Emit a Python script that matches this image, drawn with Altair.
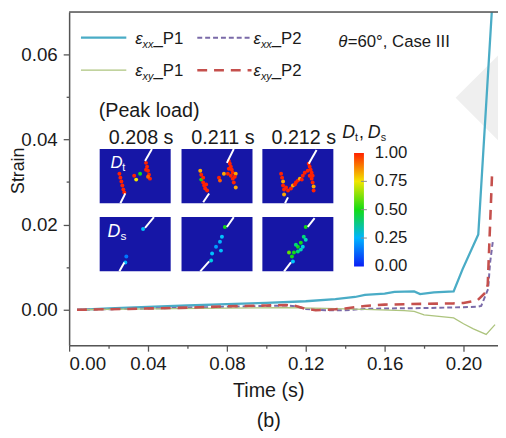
import altair as alt
import pandas as pd

FONT = "Liberation Sans"

# ---------------- series ----------------
t_xx_p1 = [0.004, 0.02, 0.04, 0.06, 0.08, 0.10, 0.12, 0.135, 0.145, 0.15, 0.16, 0.165,
           0.175, 0.178, 0.185, 0.195, 0.1995, 0.2075, 0.215]
e_xx_p1 = [0.0, 0.0003, 0.0007, 0.001, 0.0013, 0.0016, 0.002, 0.0025, 0.003, 0.0035, 0.0038, 0.0042,
           0.0043, 0.0037, 0.0041, 0.0043, 0.0095, 0.0177, 0.075]

t_xx_p2 = [0.004, 0.03, 0.06, 0.08, 0.10, 0.11, 0.115, 0.12, 0.13, 0.14, 0.15, 0.16, 0.18,
           0.20, 0.207, 0.209, 0.2125, 0.2135, 0.215]
e_xx_p2 = [0.0, 0.0002, 0.0005, 0.0007, 0.0009, 0.001, 0.0008, 0.0002, -0.0001, -0.0001, 0.0002,
           0.0003, 0.0004, 0.0006, 0.0007, 0.0009, 0.0049, 0.0111, 0.0165]

t_xy_p1 = [0.004, 0.04, 0.08, 0.11, 0.13, 0.15, 0.17, 0.175, 0.18, 0.195, 0.20, 0.205, 0.2115, 0.216]
e_xy_p1 = [0.0, 0.0002, 0.0004, 0.0005, 0.0003, 0.0001, -0.0002, -0.0004, -0.0012, -0.0019,
           -0.0033, -0.0045, -0.0058, -0.0035]

t_xy_p2 = [0.004, 0.03, 0.06, 0.08, 0.10, 0.11, 0.115, 0.12, 0.125, 0.135, 0.14, 0.15, 0.16,
           0.18, 0.195, 0.20, 0.207, 0.2115, 0.2123, 0.2145]
e_xy_p2 = [0.0, 0.0002, 0.0005, 0.0008, 0.001, 0.0011, 0.0009, 0.0002, -0.0001, 0.0001, 0.0003,
           0.0009, 0.0012, 0.0014, 0.0015, 0.0016, 0.0022, 0.0042, 0.006, 0.032]

x_ticks = [0.00, 0.02, 0.04, 0.06, 0.08, 0.10, 0.12, 0.14, 0.16, 0.18, 0.20]
y_ticks = [0.00, 0.01, 0.02, 0.03, 0.04, 0.05, 0.06]

legend_subs = ["xx", "xx", "xy", "xy"]
legend_tails = ["_P1", "_P2", "_P1", "_P2"]
case_text = "=60°, Case III"
snap_times = ["0.208 s", "0.211 s", "0.212 s"]
peak_text = "(Peak load)"

cbar_ticks = [0.0, 0.25, 0.5, 0.75, 1.0]
cbar_colors = ["#0a1ef5", "#00b4ff", "#14dc14", "#f2e600", "#ff2200"]

# damage dots of the inset snapshots: (u, v, damage) in panel units
dots_dt = [
    [(20, 25, 1), (21, 29, 1), (22, 33, 1), (23, 37, 1), (24, 41, 1), (25, 44, 1),
     (47, 14, 1), (48, 18, 1), (49, 22, 1), (50, 26, 1), (51, 30, 1), (47, 21, 1), (49, 28, 0.95),
     (41, 25, 0.5), (37, 31, 0.75), (35, 27, 1)],
    [(19, 22, 0.85), (20, 26, 1), (20, 31, 0.5), (22, 34, 1), (23, 37, 1), (24, 40, 1), (26, 42, 1),
     (25, 36, 1), (22, 29, 1), (38, 29, 1), (39, 32, 0.95), (43, 25, 0.85),
     (48, 12, 1), (49, 15, 1), (50, 18, 1), (51, 21, 1), (52, 24, 1), (48, 20, 1), (50, 27, 1),
     (52, 30, 1), (53, 34, 1), (55, 39, 0.85), (55, 25, 0.85), (47, 25, 1), (54, 28, 1)],
    [(19, 25, 1), (20, 29, 1), (21, 33, 0.85), (21, 37, 1), (22, 41, 1), (22, 46, 0.85), (24, 39, 1),
     (26, 42, 1), (29, 40, 1), (31, 37, 0.85), (34, 34, 1), (36, 32, 1), (38, 30, 0.85), (41, 27, 1),
     (43, 24, 1), (40, 31, 1), (33, 36, 1),
     (47, 15, 1), (48, 18, 1), (49, 21, 1), (50, 24, 1), (48, 27, 1), (50, 30, 1), (51, 34, 1),
     (52, 38, 0.85), (52, 42, 1), (46, 22, 1), (51, 27, 1)],
]
dots_ds = [
    [(44, 12, 0.3), (27, 40, 0.12), (26, 46, 0.25)],
    [(44, 10, 0.5), (41, 20, 0.3), (39, 25, 0.25), (35, 30, 0.2), (40, 34, 0.3), (31, 37, 0.3),
     (30, 44, 0.35)],
    [(44, 10, 0.5), (42, 20, 0.45), (44, 23, 0.4), (39, 26, 0.5), (36, 30, 0.5), (41, 30, 0.35),
     (32, 36, 0.5), (36, 35, 0.45), (39, 33, 0.4), (31, 45, 0.3), (27, 36, 0.55), (30, 40, 0.5),
     (34, 28, 0.45)],
]
cracks_dt = [
    [(53, 0, 46, 12), (26, 45, 21, 55)],
    [(53, 0, 46, 14), (28, 45, 22, 54)],
    [(55, 1, 47, 15), (26, 49, 23, 55)],
]
cracks_ds = [
    [(55, 0, 46, 11), (25, 46, 20, 55)],
    [(53, 0, 46, 10), (28, 45, 19, 55)],
    [(53, 1, 46, 10), (29, 46, 22, 55)],
]

# ---------------- layout ----------------
W, H = 435, 338
xs = alt.Scale(domain=[0, 0.2175], nice=False, zero=False)
ys = alt.Scale(domain=[-0.00834, 0.06996], nice=False, zero=False)
AX = "#555555"
TXT = "#1a1a1a"

col_off = [0, 83, 165]
row_off = [0, 69]
PW, PH = 72, 55
ix = alt.Scale(domain=[0, 100], range=[31, 131], nice=False, zero=False)
iy = alt.Scale(domain=[0, 100], range=[139, 239], nice=False, zero=False)
cb = alt.Scale(domain=[0, 1], range=[258, 143], nice=False, zero=False)
dmg = alt.Scale(domain=cbar_ticks, range=cbar_colors)

PURPLE_DASH = [5, 3]
RED_DASH = [10, 7]


def line(t, v, color, width, dash=None, axes=False):
    df = pd.DataFrame({"t": t, "v": v})
    kw = dict(color=color, strokeWidth=width, clip=True)
    if dash:
        kw["strokeDash"] = dash
    if axes:
        common = dict(format=".2f", grid=False, domainColor=AX, domainWidth=1.5, tickColor=AX,
                      tickWidth=1.3, labelFont=FONT, labelFontSize=19, labelColor=TXT)
        xax = alt.Axis(values=x_ticks,
                       labelExpr="round(datum.value*100) % 4 == 0 ? format(datum.value, '.2f') : ''",
                       tickSize={"condition": {"test": "round(datum.value*100) % 4 == 0", "value": 6}, "value": 3},
                       title=["Time (s)", "(b)"], titleX=202, titleY=52, titleBaseline="alphabetic",
                       titleLineHeight=30, titleFontSize=20, titleFontWeight="normal", titleFont=FONT,
                       titleColor=TXT, labelPadding=4, **common)
        yax = alt.Axis(values=y_ticks,
                       labelExpr="round(datum.value*100) % 2 == 0 ? format(datum.value, '.2f') : ''",
                       tickSize={"condition": {"test": "round(datum.value*100) % 2 == 0", "value": 6}, "value": 3},
                       title=None, labelPadding=6, **common)
    else:
        xax = None
        yax = None
    return alt.Chart(df).mark_line(**kw).encode(
        x=alt.X("t:Q", scale=xs, axis=xax),
        y=alt.Y("v:Q", scale=ys, axis=yax),
    )


def texts(rows, italic=False, color=TXT, align="left", baseline="alphabetic", angle=0):
    df = pd.DataFrame(rows, columns=["txt", "px", "py", "fs"])
    return alt.Chart(df).mark_text(
        align=align, baseline=baseline, font=FONT,
        fontStyle="italic" if italic else "normal", color=color, angle=angle
    ).encode(
        x=alt.X("px:Q", scale=None), y=alt.Y("py:Q", scale=None),
        text="txt:N", size=alt.Size("fs:Q", scale=None, legend=None),
    )


layers = []

# watermark diamond
layers.append(alt.Chart(pd.DataFrame({"a": [0]})).mark_point(
    shape="diamond", filled=True, size=8100, color="#efefef", opacity=1, strokeWidth=0
).encode(x=alt.value(437), y=alt.value(87)))

# series
layers.append(line(t_xx_p1, e_xx_p1, "#4aacc6", 2.3, axes=True))
layers.append(line(t_xx_p2, e_xx_p2, "#7a6aa8", 2.0, dash=PURPLE_DASH))
layers.append(line(t_xy_p1, e_xy_p1, "#adc47e", 1.3))
layers.append(line(t_xy_p2, e_xy_p2, "#c5504d", 2.6, dash=RED_DASH))

# top frame
layers.append(alt.Chart(pd.DataFrame({"a": [0]})).mark_rule(color=AX, strokeWidth=1.5).encode(
    x=alt.value(0), x2=alt.value(W), y=alt.value(0)))

# legend samples
leg_styles = [("#4aacc6", 2.3, None), ("#7a6aa8", 2.0, PURPLE_DASH), ("#adc47e", 1.3, None),
              ("#c5504d", 2.6, RED_DASH)]
leg_pos = [(12, 58, 26, 67, 32), (130, 185, 26, 187, 32), (12, 58, 59, 67, 65), (130, 185, 59, 187, 65)]
eps_rows, sub_rows, tail_rows = [], [], []
for i, (col, wdt, dash) in enumerate(leg_styles):
    xa, xb, yy, tx, tb = leg_pos[i]
    kw = dict(color=col, strokeWidth=wdt)
    if dash:
        kw["strokeDash"] = dash
    layers.append(alt.Chart(pd.DataFrame({"a": [0]})).mark_rule(**kw).encode(
        x=alt.value(xa), x2=alt.value(xb), y=alt.value(yy)))
    eps_rows.append(("ε", tx, tb, 17))
    sub_rows.append((legend_subs[i], tx + 7.5, tb + 4, 11))
    tail_rows.append((legend_tails[i], tx + 18.5, tb, 17))
layers.append(texts(eps_rows + sub_rows + [("θ", 273, 35, 17)], italic=True))
layers.append(texts(tail_rows + [(case_text, 282.5, 35, 17)]))

# y title at the left edge
layers.append(texts([("Strain", -45.5, 161, 18)], align="center", angle=270))

# ---------------- inset ----------------
panels, dots, cracks = [], [], []
for r, (dset, cset) in enumerate([(dots_dt, cracks_dt), (dots_ds, cracks_ds)]):
    for c in range(3):
        x0, y0 = col_off[c], row_off[r]
        panels.append({"x0": x0, "x1": x0 + PW, "y0": y0, "y1": y0 + PH})
        for (u, v, d) in dset[c]:
            dots.append({"gx": x0 + u, "gy": y0 + v, "d": d})
        for (u1, v1, u2, v2) in cset[c]:
            cracks.append({"a": x0 + u1, "b": y0 + v1, "a2": x0 + u2, "b2": y0 + v2})

layers.append(alt.Chart(pd.DataFrame(panels)).mark_rect(fill="#1616a6").encode(
    x=alt.X("x0:Q", scale=ix, axis=None), x2="x1:Q",
    y=alt.Y("y0:Q", scale=iy, axis=None), y2="y1:Q"))
layers.append(alt.Chart(pd.DataFrame(dots)).mark_circle(size=16, opacity=1).encode(
    x=alt.X("gx:Q", scale=ix, axis=None), y=alt.Y("gy:Q", scale=iy, axis=None),
    color=alt.Color("d:Q", scale=dmg, legend=None)))
layers.append(alt.Chart(pd.DataFrame(cracks)).mark_rule(color="white", strokeWidth=2).encode(
    x=alt.X("a:Q", scale=ix, axis=None), x2="a2:Q",
    y=alt.Y("b:Q", scale=iy, axis=None), y2="b2:Q"))

# inset texts
time_rows = [(snap_times[c], 31 + col_off[c] + PW / 2 + 6, 134, 20) for c in range(3)]
layers.append(texts([(peak_text, 30, 106, 20)]))
layers.append(texts(time_rows, align="center"))
layers.append(texts([("D", 42, 158, 17), ("D", 39, 228, 18)], italic=True, color="white"))
layers.append(texts([("t", 54, 161, 11), ("s", 52, 231, 12)], color="white"))
layers.append(texts([("D", 277, 128, 18), ("D", 303, 128, 18)], italic=True))
layers.append(texts([("t", 290, 130.5, 11), (",", 294, 128, 18), ("s", 316, 130.5, 11)]))

# colour bar
grad = alt.LinearGradient(
    gradient="linear",
    stops=[alt.GradientStop(offset=o, color=c) for o, c in zip(cbar_ticks, cbar_colors)],
    x1=0, x2=0, y1=1, y2=0)
layers.append(alt.Chart(pd.DataFrame({"lo": [0.0], "hi": [1.0]})).mark_rect(fill=grad).encode(
    x=alt.value(289), x2=alt.value(299),
    y=alt.Y("lo:Q", scale=cb, axis=None), y2="hi:Q"))
cdf = pd.DataFrame({"v": cbar_ticks})
layers.append(alt.Chart(cdf[(cdf.v > 0) & (cdf.v < 1)]).mark_rule(color="#8a8a8a", strokeWidth=1).encode(
    x=alt.value(296), x2=alt.value(302), y=alt.Y("v:Q", scale=cb, axis=None)))
layers.append(alt.Chart(cdf).mark_text(align="left", baseline="middle", font=FONT, fontSize=17,
                                       color=TXT).encode(
    x=alt.value(310), y=alt.Y("v:Q", scale=cb, axis=None), text=alt.Text("v:Q", format=".2f")))

chart = alt.layer(*layers).resolve_scale(
    x="independent", y="independent", color="independent"
).properties(
    width=W, height=H,
    padding={"left": 62, "top": 1, "right": 0, "bottom": 91},
    autosize=alt.AutoSizeParams(type="none"),
).configure_view(stroke=None).configure(background="white")

chart.save("out.html", embed_options={"renderer": "svg", "actions": False})
